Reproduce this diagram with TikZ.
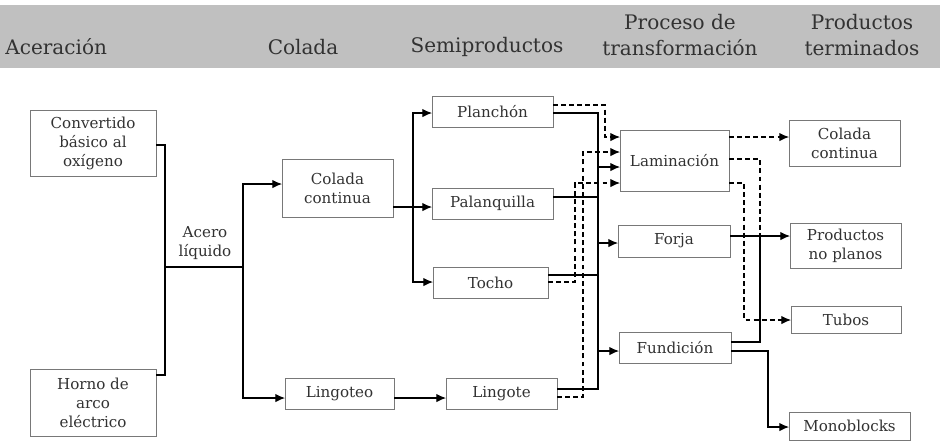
\documentclass[tikz,border=0pt]{standalone}
\usepackage{fontspec}
\setmainfont{DejaVu Serif}
\usetikzlibrary{arrows.meta}
\definecolor{band}{RGB}{192,192,192}
\definecolor{txt}{RGB}{50,50,50}
\definecolor{bord}{RGB}{120,120,120}
\newcommand\bx[6]{\node[box,minimum width={(#4-#2)*0.02cm},minimum height={(#5-#3)*0.02cm}] (#1) at ({(#2+#4)/2},{(#3+#5)/2}) {#6};}
\begin{document}
\begin{tikzpicture}[x=0.02cm,y=-0.02cm,
  box/.style={draw=bord,line width=0.5pt,inner sep=0pt,outer sep=0pt,align=center,text=txt,font=\fontsize{8.6}{10.8}\selectfont},
  head/.style={inner sep=0pt,align=center,text=txt,font=\fontsize{11.4}{14.6}\selectfont},
  lbl/.style={inner sep=0pt,align=center,text=txt,font=\fontsize{8.6}{10.8}\selectfont},
  ln/.style={line width=0.6pt,black},
  arr/.style={ln,-{Latex[length=5.5pt,width=4.8pt]}},
  dsh/.style={ln,dash pattern=on 2.8pt off 1.8pt},
  darr/.style={arr,dash pattern=on 2.8pt off 1.8pt}]
\useasboundingbox (0,0) rectangle (940,441);
\fill[band] (0,5) rectangle (940,68);
% headers
\node[head,anchor=west] (h1) at (5,47) {Aceración};
\node[head] (h2) at (303,47) {Colada};
\node[head] (h3) at (487,47) {Semiproductos};
\node[head] (h4) at (680,35) {Proceso de\\transformación};
\node[head] (h5) at (862,35) {Productos\\terminados};
% boxes
\bx{conv}{30}{110}{156}{176}{Convertido\\básico al\\oxígeno}
\bx{horno}{30}{369}{156}{436}{Horno de\\arco\\eléctrico}
\bx{ccont}{282}{159}{393}{217}{Colada\\continua}
\bx{lingoteo}{285}{378}{394}{409}{Lingoteo}
\bx{plan}{432}{96}{553}{127}{Planchón}
\bx{palan}{432}{188}{553}{219}{Palanquilla}
\bx{tocho}{433}{267}{548}{298}{Tocho}
\bx{lingote}{446}{378}{557}{409}{Lingote}
\bx{lam}{620}{130}{729}{191}{Laminación}
\bx{forja}{618}{225}{730}{257}{Forja}
\bx{fund}{619}{332}{731}{363}{Fundición}
\bx{pcc}{789}{120}{900}{166}{Colada\\continua}
\bx{pnp}{790}{223}{901}{268}{Productos\\no planos}
\bx{tubos}{791}{306}{901}{333}{Tubos}
\bx{mono}{789}{412}{910}{440}{Monoblocks}
\node[lbl] (acero) at (205,243) {Acero\\líquido};
% acero liquido junction
\coordinate (j1) at (165,267);
\coordinate (j2) at (243,267);
\draw[ln] (conv.east |- 0,145) -| (j1);
\draw[ln] (horno.east |- 0,375) -| (j1);
\draw[ln] (j1) -- (j2);
\draw[arr] (j2) |- (ccont.west |- 0,184);
\draw[arr] (j2) |- (lingoteo.west |- 0,398);
\draw[arr] (lingoteo.east |- 0,398) -- (lingote.west |- 0,398);
% colada continua to semiproducts
\coordinate (s1) at (413,207);
\draw[arr] (ccont.east |- 0,207) -- (palan.west |- 0,207);
\draw[arr] (s1) |- (plan.west |- 0,113);
\draw[arr] (s1) |- (tocho.west |- 0,282);
% solid bus
\draw[ln] (plan.east |- 0,113) -| (598,389) -- (lingote.east |- 0,389);
\draw[ln] (palan.east |- 0,197) -- (598,197);
\draw[ln] (tocho.east |- 0,275) -- (598,275);
\draw[arr] (598,167) -- (lam.west |- 0,167);
\draw[arr] (598,243) -- (forja.west |- 0,243);
\draw[arr] (598,351) -- (fund.west |- 0,351);
% dashed inputs to laminacion
\draw[darr] (plan.east |- 0,105) -| (605,137) -- (lam.west |- 0,137);
\draw[darr] (lingote.east |- 0,397) -| (583,152) -- (lam.west |- 0,152);
\draw[darr] (tocho.east |- 0,282) -| (575,183) -- (lam.west |- 0,183);
% outputs
\draw[darr] (lam.east |- 0,137) -- (pcc.west |- 0,137);
\draw[dsh] (lam.east |- 0,159) -| (760,236);
\draw[arr] (forja.east |- 0,236) -- (pnp.west |- 0,236);
\draw[ln] (fund.east |- 0,342) -| (760,236);
\draw[darr] (lam.east |- 0,183) -| (744,320) -- (tubos.west |- 0,320);
\draw[arr] (fund.east |- 0,351) -| (768,427) -- (mono.west |- 0,427);
\end{tikzpicture}
\end{document}
